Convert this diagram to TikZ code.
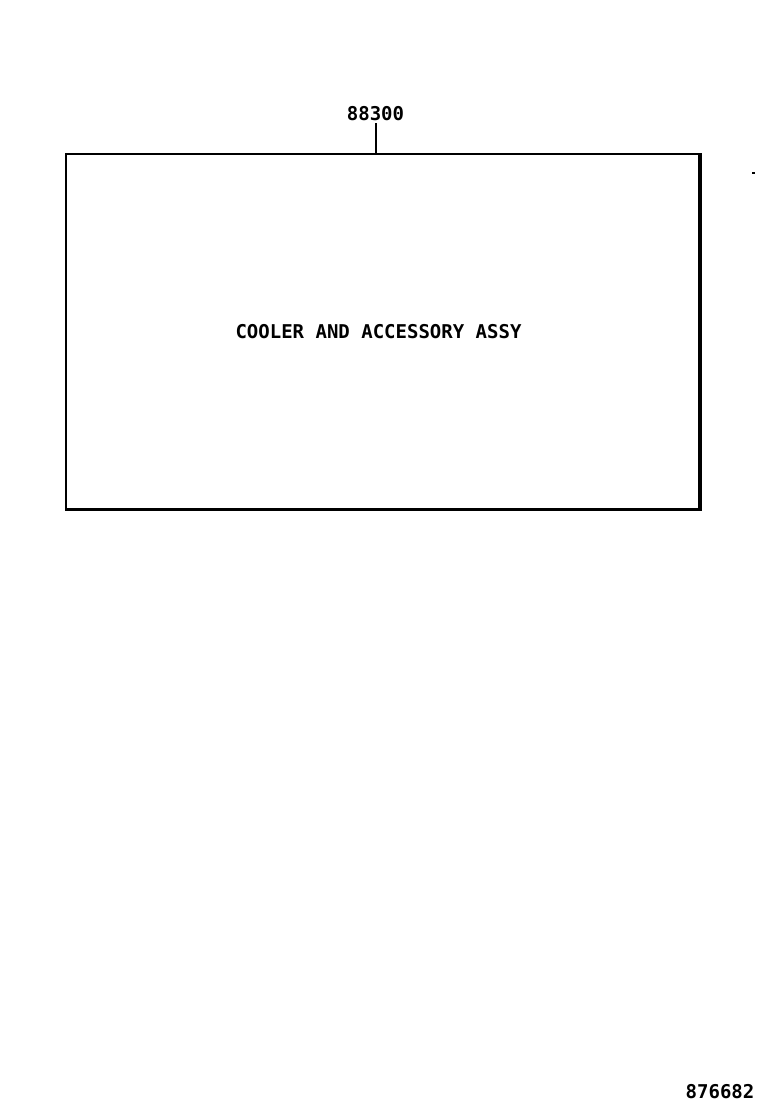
\documentclass[tikz,border=0pt]{standalone}
\usepackage{fontspec}
\newfontfamily\partfont{DejaVu Sans Mono}
\begin{document}
\begin{tikzpicture}[x=1pt,y=-1pt,
  lbl/.style={font=\partfont\bfseries\fontsize{19}{19}\selectfont, inner sep=0pt},
  frame/.style={draw, line width=2pt, inner sep=0pt, minimum width=633pt, minimum height=355pt}]
  \useasboundingbox (0,0) rectangle (760,1112);
  % Box
  \node[frame] (assy) at (382.5,331) {};
  \draw[line width=3pt] (assy.south west) -- (assy.south east) -- (assy.north east);
  \node[lbl] (title) at (378.5,332) {COOLER AND ACCESSORY ASSY};
  % Part number
  \node[lbl] (num) at (375.5,114) {88300};
  \draw[line width=2pt] ([yshift=-2pt]num.south) -- (num.south |- assy.north);
  % Mark
  \coordinate (mark) at (752,173);
  \draw[line width=2pt] (mark) -- ++(3,0);
  % Figure number
  \node[lbl] (fig) at (720,1092) {876682};
\end{tikzpicture}
\end{document}
